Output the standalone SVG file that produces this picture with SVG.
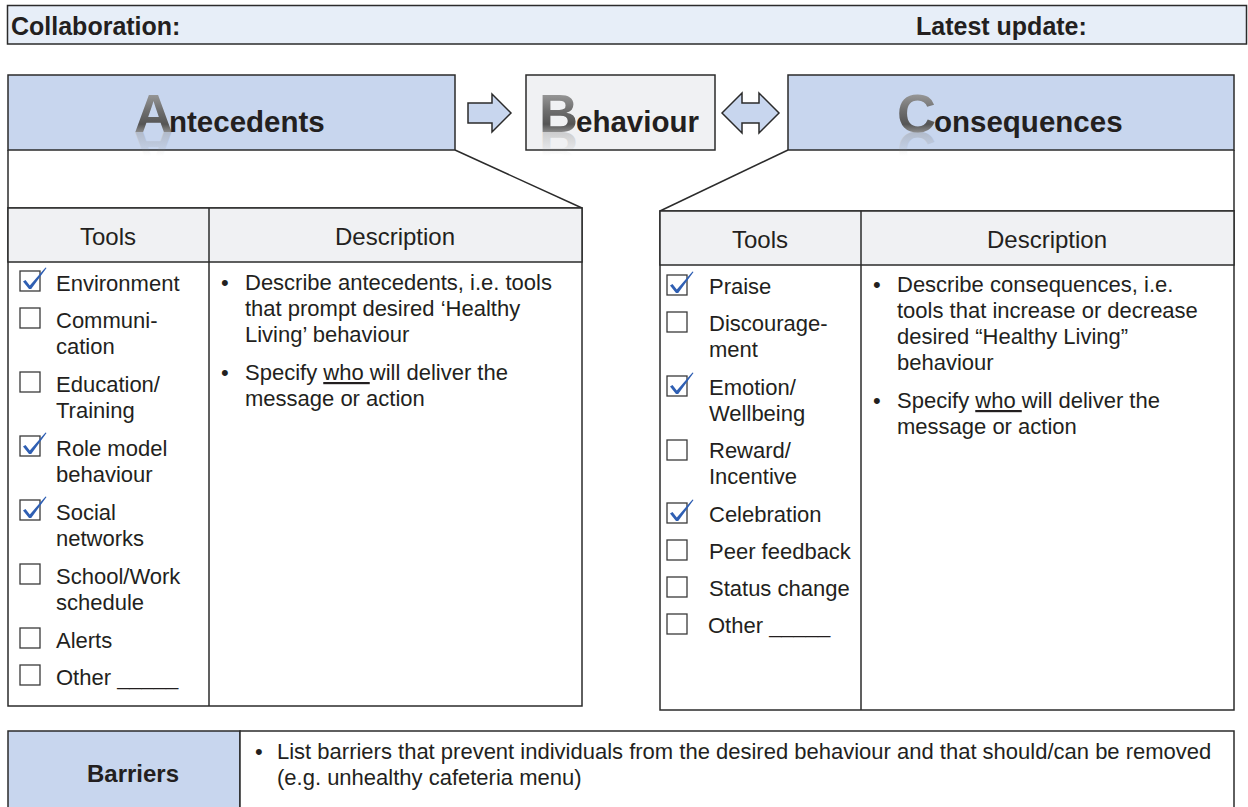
<svg xmlns="http://www.w3.org/2000/svg" xmlns:xlink="http://www.w3.org/1999/xlink" width="1248" height="807" viewBox="0 0 1248 807">
<defs>
<style>
text{font-family:"Liberation Sans",Arial,Helvetica,sans-serif;fill:#231f20}
.bar{font-size:25px;font-weight:bold}
.hdr{font-size:29.5px;font-weight:bold}
.big{font-size:54px;fill:url(#metal)}
.th{font-size:24px;text-anchor:middle}
.it{font-size:22px}
.bt{font-size:22px}
.ln{fill:none;stroke:#2b2b2b;stroke-width:1.5}
.hd{fill:#c8d6ee;stroke:#2b2b2b;stroke-width:1.5}
.gr{fill:#f0f1f3;stroke:#2b2b2b;stroke-width:1.5}
.wh{fill:#ffffff;stroke:#2b2b2b;stroke-width:1.5}
.cb{fill:#ffffff;stroke:#3a3a3a;stroke-width:1.3}
.ck{fill:#2f5fb3}
.arr{fill:#c8d6ee;stroke:#2b2b2b;stroke-width:1.5;stroke-linejoin:miter}
.ref{font-size:54px;font-weight:bold;fill:url(#fade)}
</style>
<linearGradient id="metal" gradientUnits="userSpaceOnUse" x1="0" y1="93" x2="0" y2="132">
<stop offset="0" stop-color="#9a9a9a"/>
<stop offset="0.45" stop-color="#6e6e6e"/>
<stop offset="0.8" stop-color="#555555"/>
<stop offset="1" stop-color="#8a8a8a"/>
</linearGradient>
<linearGradient id="fade" gradientUnits="userSpaceOnUse" x1="0" y1="132" x2="0" y2="108">
<stop offset="0" stop-color="#888888" stop-opacity="0.35"/>
<stop offset="1" stop-color="#888888" stop-opacity="0"/>
</linearGradient>
<path id="chk" class="ck" d="M3 10.5 L5.5 9 L9.8 14.5 L25.5 -3.5 L26.5 -3 L11.2 18 L9 18 Z"/>
<text id="refA" class="ref" x="134" y="132">A</text>
<text id="refB" class="ref" x="539" y="132">B</text>
<text id="refC" class="ref" x="897" y="132">C</text>
</defs>

<g id="top-bar">
<rect x="7.5" y="5.5" width="1239" height="38.5" fill="#e7eef8" stroke="#2b2b2b" stroke-width="1.5"/>
<text class="bar" x="11" y="35">Collaboration:</text>
<text class="bar" x="916" y="35">Latest update:</text>
</g>

<g id="antecedents">
<rect class="hd" x="8" y="75" width="447" height="75"/>
<use xlink:href="#refA" transform="translate(0 264) scale(1 -1)"/>
<text class="hdr" x="134" y="132"><tspan class="big">A</tspan><tspan dx="-4">ntecedents</tspan></text>
<line class="ln" x1="8" y1="150" x2="8" y2="208"/>
<line class="ln" x1="455" y1="150" x2="582" y2="208"/>
<rect class="wh" x="8" y="208" width="574" height="498"/>
<rect class="gr" x="8" y="208" width="574" height="54"/>
<line class="ln" x1="209" y1="208" x2="209" y2="706"/>
<text class="th" x="108" y="245">Tools</text>
<text class="th" x="395" y="245">Description</text>
<g class="boxes">
<rect class="cb" x="20" y="271" width="20" height="20"/>
<rect class="cb" x="20" y="308" width="20" height="20"/>
<rect class="cb" x="20" y="372" width="20" height="20"/>
<rect class="cb" x="20" y="436" width="20" height="20"/>
<rect class="cb" x="20" y="500" width="20" height="20"/>
<rect class="cb" x="20" y="564" width="20" height="20"/>
<rect class="cb" x="20" y="628" width="20" height="20"/>
<rect class="cb" x="20" y="665" width="20" height="20"/>
<use xlink:href="#chk" x="20" y="271"/>
<use xlink:href="#chk" x="20" y="436"/>
<use xlink:href="#chk" x="20" y="500"/>
</g>
<text class="it" x="56" y="291">Environment</text>
<text class="it" x="56" y="328">Communi-</text>
<text class="it" x="56" y="354">cation</text>
<text class="it" x="56" y="392">Education/</text>
<text class="it" x="56" y="418">Training</text>
<text class="it" x="56" y="456">Role model</text>
<text class="it" x="56" y="482">behaviour</text>
<text class="it" x="56" y="520">Social</text>
<text class="it" x="56" y="546">networks</text>
<text class="it" x="56" y="584">School/Work</text>
<text class="it" x="56" y="610">schedule</text>
<text class="it" x="56" y="648">Alerts</text>
<text class="it" x="56" y="685">Other _____</text>
<text class="it" x="221" y="290">•</text>
<text class="it" x="245" y="290">Describe antecedents, i.e. tools</text>
<text class="it" x="245" y="316">that prompt desired ‘Healthy</text>
<text class="it" x="245" y="342">Living’ behaviour</text>
<text class="it" x="221" y="380">•</text>
<text class="it" x="245" y="380">Specify <tspan text-decoration="underline">who </tspan>will deliver the</text>
<text class="it" x="245" y="406">message or action</text>
</g>

<g id="behaviour">
<rect class="gr" x="526" y="75" width="189" height="75"/>
<use xlink:href="#refB" transform="translate(0 264) scale(1 -1)"/>
<text class="hdr" x="539" y="132"><tspan class="big">B</tspan><tspan dx="-2">ehaviour</tspan></text>
</g>

<g id="consequences">
<rect class="hd" x="788" y="75" width="446" height="75"/>
<use xlink:href="#refC" transform="translate(0 264) scale(1 -1)"/>
<text class="hdr" x="897" y="132"><tspan class="big">C</tspan><tspan dx="-2">onsequences</tspan></text>
<line class="ln" x1="1234" y1="150" x2="1234" y2="211"/>
<line class="ln" x1="788" y1="150" x2="660" y2="211"/>
<rect class="wh" x="660" y="211" width="574" height="499"/>
<rect class="gr" x="660" y="211" width="574" height="54"/>
<line class="ln" x1="861" y1="211" x2="861" y2="710"/>
<text class="th" x="760" y="248">Tools</text>
<text class="th" x="1047" y="248">Description</text>
<g class="boxes">
<rect class="cb" x="667" y="275" width="20" height="20"/>
<rect class="cb" x="667" y="312" width="20" height="20"/>
<rect class="cb" x="667" y="376" width="20" height="20"/>
<rect class="cb" x="667" y="440" width="20" height="20"/>
<rect class="cb" x="667" y="503" width="20" height="20"/>
<rect class="cb" x="667" y="540" width="20" height="20"/>
<rect class="cb" x="667" y="577" width="20" height="20"/>
<rect class="cb" x="667" y="614" width="20" height="20"/>
<use xlink:href="#chk" x="667" y="275"/>
<use xlink:href="#chk" x="667" y="376"/>
<use xlink:href="#chk" x="667" y="503"/>
</g>
<text class="it" x="709" y="294">Praise</text>
<text class="it" x="709" y="331">Discourage-</text>
<text class="it" x="709" y="357">ment</text>
<text class="it" x="709" y="395">Emotion/</text>
<text class="it" x="709" y="421">Wellbeing</text>
<text class="it" x="709" y="458">Reward/</text>
<text class="it" x="709" y="484">Incentive</text>
<text class="it" x="709" y="522">Celebration</text>
<text class="it" x="709" y="559">Peer feedback</text>
<text class="it" x="709" y="596">Status change</text>
<text class="it" x="708" y="633">Other _____</text>
<text class="it" x="873" y="292">•</text>
<text class="it" x="897" y="292">Describe consequences, i.e.</text>
<text class="it" x="897" y="318">tools that increase or decrease</text>
<text class="it" x="897" y="344">desired “Healthy Living”</text>
<text class="it" x="897" y="370">behaviour</text>
<text class="it" x="873" y="408">•</text>
<text class="it" x="897" y="408">Specify <tspan text-decoration="underline">who </tspan>will deliver the</text>
<text class="it" x="897" y="434">message or action</text>
</g>

<g id="barriers">
<rect class="hd" x="8" y="731" width="232" height="90"/>
<rect class="wh" x="240" y="731" width="994" height="90"/>
<text x="133" y="782" font-size="24" font-weight="bold" text-anchor="middle">Barriers</text>
<text class="bt" x="255" y="759">•</text>
<text class="bt" x="277" y="759">List barriers that prevent individuals from the desired behaviour and that should/can be removed</text>
<text class="bt" x="277" y="785">(e.g. unhealthy cafeteria menu)</text>
</g>

<g id="connectors">
<polygon class="arr" points="468,103 492,103 492,94 511,113 492,132 492,123 468,123"/>
<polygon class="arr" points="722,113 742,93 742,103 759,103 759,93 779,113 759,133 759,123 742,123 742,133"/>
</g>
</svg>
